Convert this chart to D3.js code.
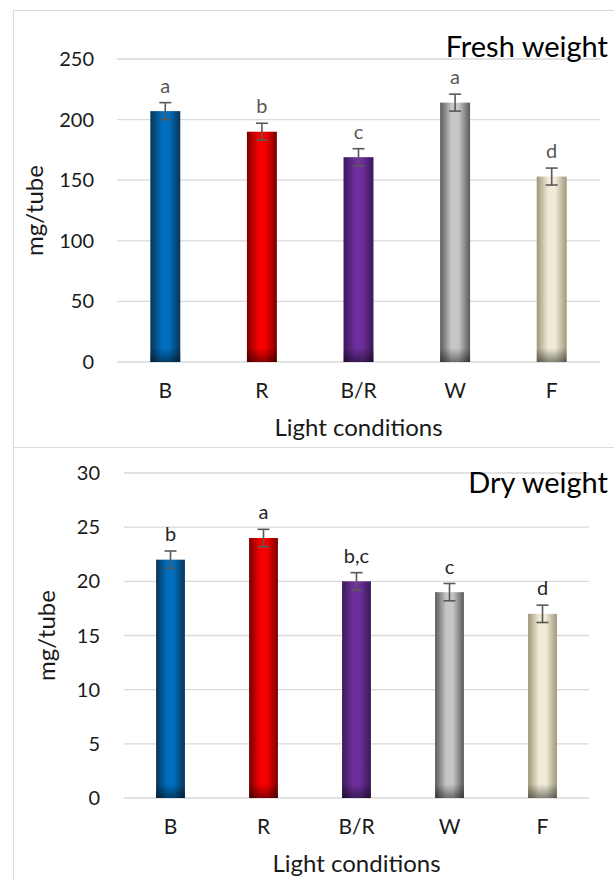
<!DOCTYPE html>
<html>
<head>
<meta charset="utf-8">
<script src="https://cdn.jsdelivr.net/npm/d3@7"></script>
<style>
  body { margin: 0; background: #fff; }
  svg { display: block; font-family: Lato, "Open Sans", sans-serif; }
</style>
</head>
<body>
<script>
// chart data
var categories = ["B", "R", "B/R", "W", "F"];
var freshValues = [207, 190, 169, 214, 153];
var freshErrors = [7, 7, 7, 7, 7];
var freshLetters = ["a", "b", "c", "a", "d"];
var freshTicks = [0, 50, 100, 150, 200, 250];
var dryValues = [22, 24, 20, 19, 17];
var dryErrors = [0.8, 0.8, 0.8, 0.8, 0.8];
var dryLetters = ["b", "a", "b,c", "c", "d"];
var dryTicks = [0, 5, 10, 15, 20, 25, 30];

// bar colours: edge, centre
var barColors = [
    ["#0a3558", "#006ebd"],
    ["#7a0000", "#f50000"],
    ["#391957", "#6e2e9c"],
    ["#5a5a5a", "#c6c6c6"],
    ["#9e977b", "#f0ebd7"]
];

var width = 614,
    height = 880;

var svg = d3.select("body")
    .append("svg")
    .attr("width", width)
    .attr("height", height);

var defs = svg.append("defs");

//horizontal gradients for the bars
barColors.forEach(function(c, i){
    var g = defs.append("linearGradient")
        .attr("id", "bar" + i)
        .attr("x1", "0%").attr("x2", "100%")
        .attr("y1", "0%").attr("y2", "0%");
    g.append("stop").attr("offset", "0%").attr("stop-color", c[0]);
    g.append("stop").attr("offset", "38%").attr("stop-color", c[1]);
    g.append("stop").attr("offset", "62%").attr("stop-color", c[1]);
    g.append("stop").attr("offset", "100%").attr("stop-color", c[0]);
});
//darkening near the bottom of the bars
var shade = defs.append("linearGradient")
    .attr("id", "shadeBottom")
    .attr("x1", "0%").attr("x2", "0%")
    .attr("y1", "0%").attr("y2", "100%");
shade.append("stop").attr("offset", "0%").attr("stop-color", "#000").attr("stop-opacity", 0);
shade.append("stop").attr("offset", "100%").attr("stop-color", "#000").attr("stop-opacity", 0.45);

//panel borders
svg.append("path")
    .attr("d", "M614,10.5 H13.5 V880")
    .attr("fill", "none")
    .attr("stroke", "#d9d9d9")
    .attr("stroke-width", 1.2);
svg.append("line")
    .attr("x1", 13.5).attr("x2", 614)
    .attr("y1", 447.5).attr("y2", 447.5)
    .attr("stroke", "#d9d9d9")
    .attr("stroke-width", 1.2);

drawPanel({
    values: freshValues, errors: freshErrors, letters: freshLetters, ticks: freshTicks,
    x0: 117, x1: 600, yTop: 59, yZero: 362,
    labelX: 94, titleX: 35,
    title: "Fresh weight", titleY: 57,
    letterColor: "#595959",
    tickY: 398, axisTitleY: 436
});

drawPanel({
    values: dryValues, errors: dryErrors, letters: dryLetters, ticks: dryTicks,
    x0: 124, x1: 589, yTop: 473, yZero: 798,
    labelX: 100, titleX: 47,
    title: "Dry weight", titleY: 493,
    letterColor: "#262626",
    tickY: 834, axisTitleY: 872
});

function drawPanel(o){
    var x = d3.scaleBand()
        .domain(categories)
        .range([o.x0, o.x1])
        .paddingInner(0.69)
        .paddingOuter(0.345);

    var y = d3.scaleLinear()
        .domain([0, d3.max(o.ticks)])
        .range([o.yZero, o.yTop]);

    var g = svg.append("g");

    //gridlines
    g.selectAll(".grid")
        .data(o.ticks)
        .enter()
        .append("line")
        .attr("x1", o.x0).attr("x2", o.x1)
        .attr("y1", function(d){ return y(d); })
        .attr("y2", function(d){ return y(d); })
        .attr("stroke", "#d9d9d9")
        .attr("stroke-width", function(d){ return d === 0 ? 1.6 : 1.3; });

    //y tick labels
    g.selectAll(".ylab")
        .data(o.ticks)
        .enter()
        .append("text")
        .attr("x", o.labelX)
        .attr("y", function(d){ return y(d); })
        .attr("dy", "0.35em")
        .attr("text-anchor", "end")
        .attr("font-size", 20)
        .attr("fill", "#1a1a1a")
        .text(function(d){ return d; });

    //bars
    g.selectAll(".bar")
        .data(o.values)
        .enter()
        .append("rect")
        .attr("x", function(d, i){ return x(categories[i]); })
        .attr("y", function(d){ return y(d); })
        .attr("width", x.bandwidth())
        .attr("height", function(d){ return o.yZero - y(d); })
        .attr("fill", function(d, i){ return "url(#bar" + i + ")"; });

    g.selectAll(".shade")
        .data(o.values)
        .enter()
        .append("rect")
        .attr("x", function(d, i){ return x(categories[i]); })
        .attr("y", o.yZero - 14)
        .attr("width", x.bandwidth())
        .attr("height", 14)
        .attr("fill", "url(#shadeBottom)");

    //error bars
    var cap = 6;
    var err = g.selectAll(".err")
        .data(o.values)
        .enter()
        .append("g")
        .attr("stroke", "#595959")
        .attr("stroke-width", 1.6);
    err.append("line")
        .attr("x1", function(d, i){ return x(categories[i]) + x.bandwidth() / 2; })
        .attr("x2", function(d, i){ return x(categories[i]) + x.bandwidth() / 2; })
        .attr("y1", function(d, i){ return y(d + o.errors[i]); })
        .attr("y2", function(d, i){ return y(d - o.errors[i]); });
    err.append("line")
        .attr("x1", function(d, i){ return x(categories[i]) + x.bandwidth() / 2 - cap; })
        .attr("x2", function(d, i){ return x(categories[i]) + x.bandwidth() / 2 + cap; })
        .attr("y1", function(d, i){ return y(d + o.errors[i]); })
        .attr("y2", function(d, i){ return y(d + o.errors[i]); });
    err.append("line")
        .attr("x1", function(d, i){ return x(categories[i]) + x.bandwidth() / 2 - cap; })
        .attr("x2", function(d, i){ return x(categories[i]) + x.bandwidth() / 2 + cap; })
        .attr("y1", function(d, i){ return y(d - o.errors[i]); })
        .attr("y2", function(d, i){ return y(d - o.errors[i]); });

    //significance letters
    g.selectAll(".letter")
        .data(o.values)
        .enter()
        .append("text")
        .attr("x", function(d, i){ return x(categories[i]) + x.bandwidth() / 2; })
        .attr("y", function(d, i){ return y(d + o.errors[i]) - 10; })
        .attr("text-anchor", "middle")
        .attr("font-size", 20)
        .attr("fill", o.letterColor)
        .text(function(d, i){ return o.letters[i]; });

    //category labels
    g.selectAll(".xlab")
        .data(categories)
        .enter()
        .append("text")
        .attr("x", function(d){ return x(d) + x.bandwidth() / 2; })
        .attr("y", o.tickY)
        .attr("text-anchor", "middle")
        .attr("font-size", 21)
        .attr("fill", "#1a1a1a")
        .text(function(d){ return d; });

    //axis titles
    g.append("text")
        .attr("x", (o.x0 + o.x1) / 2)
        .attr("y", o.axisTitleY)
        .attr("text-anchor", "middle")
        .attr("font-size", 24)
        .attr("fill", "#1a1a1a")
        .text("Light conditions");

    g.append("text")
        .attr("transform", "translate(" + o.titleX + "," + ((o.yTop + o.yZero) / 2) + ") rotate(-90)")
        .attr("dy", "0.35em")
        .attr("text-anchor", "middle")
        .attr("font-size", 24)
        .attr("fill", "#1a1a1a")
        .text("mg/tube");

    //chart title
    g.append("text")
        .attr("x", 608)
        .attr("y", o.titleY)
        .attr("text-anchor", "end")
        .attr("font-size", 29)
        .attr("fill", "#000")
        .text(o.title);
}
</script>
</body>
</html>
